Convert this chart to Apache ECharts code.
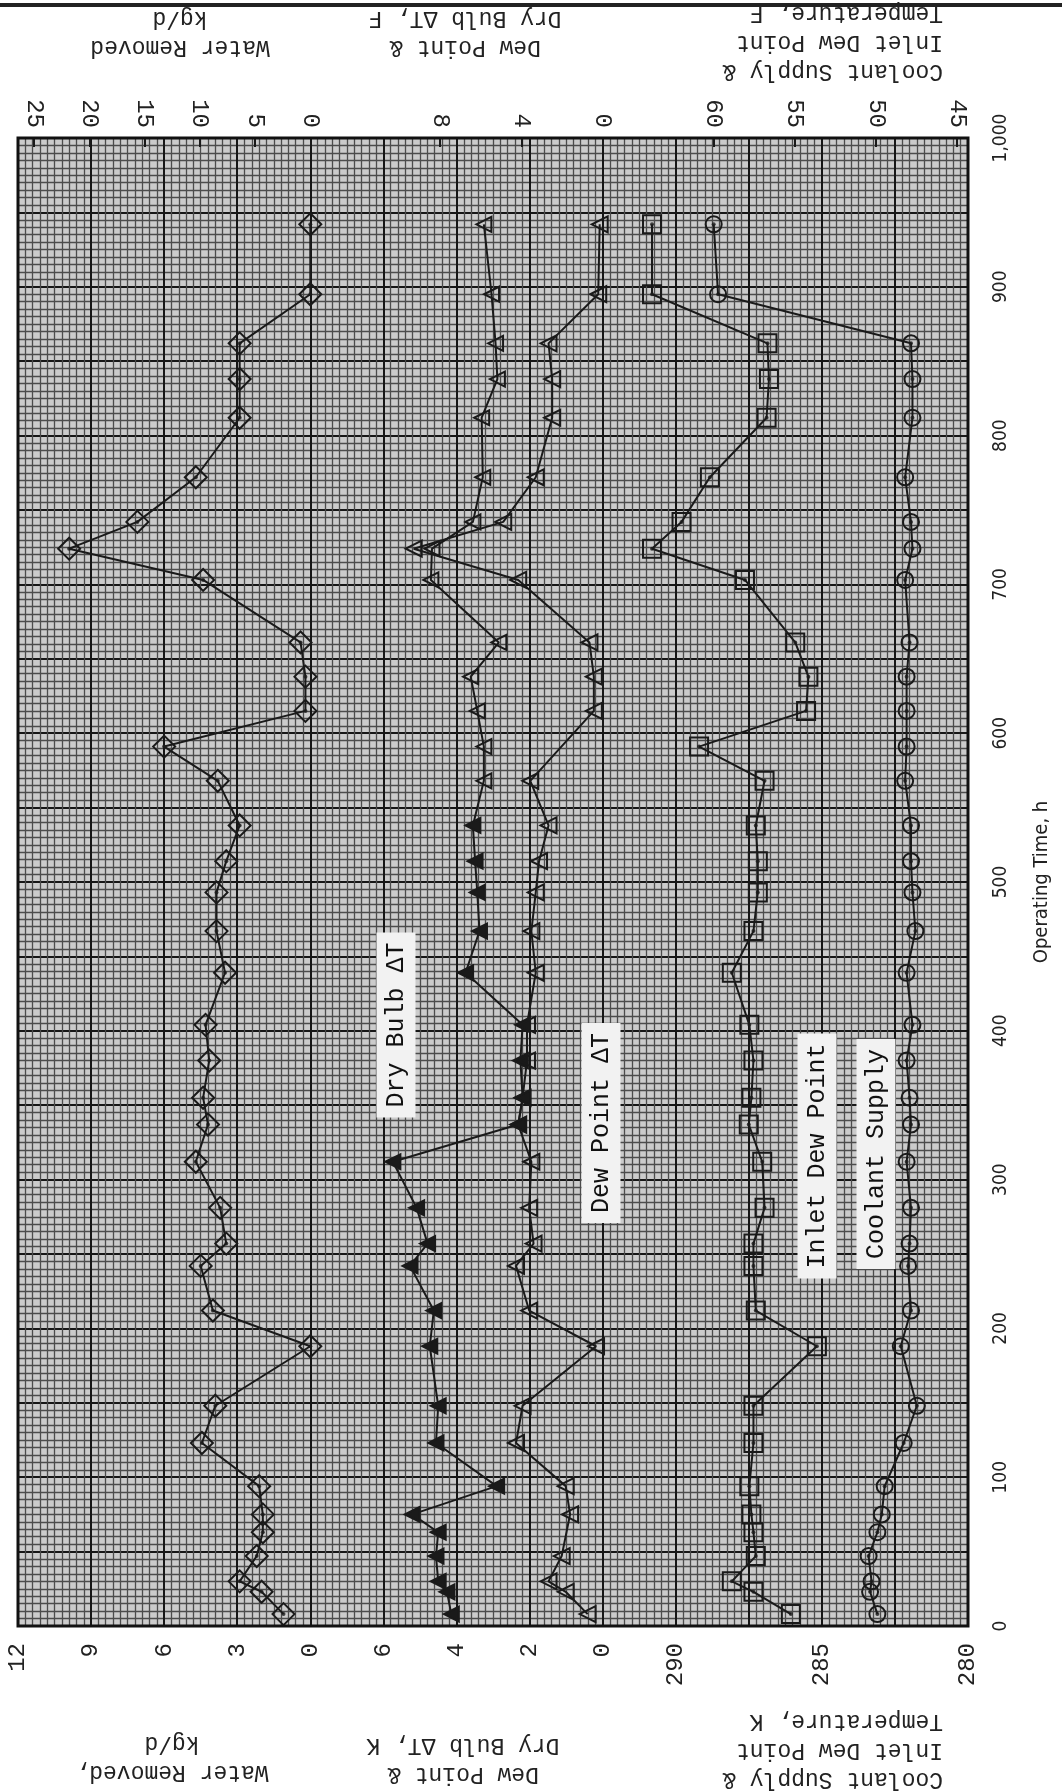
<!DOCTYPE html>
<html><head><meta charset="utf-8">
<script src="https://cdn.jsdelivr.net/npm/echarts@6/dist/echarts.min.js"></script>
<style>html,body{margin:0;padding:0;background:#fff}#c{width:1062px;height:1792px}</style>
</head><body><div id="c"></div>
<script>
// ---- data ----
const hours = [8,23,30,47,63,75,94,123,148,188,212,242,257,281,312,337,355,380,404,439,467,493,514,538,568,591,615,638,661,703,724,742,772,812,838,862,895,942];
const waterRemoved = [1.1,2.0,2.9,2.2,1.95,1.95,2.1,4.45,3.9,0,4.0,4.5,3.45,3.7,4.7,4.2,4.4,4.15,4.3,3.5,3.85,3.85,3.45,2.9,3.8,6.0,0.2,0.2,0.4,4.4,9.9,7.1,4.7,2.9,2.9,2.9,0,0];
const dryBulbDT = [4.14,4.26,4.5,4.56,4.5,5.21,2.9,4.56,4.5,4.73,4.62,5.27,4.79,5.09,5.74,2.31,2.19,2.25,2.19,3.75,3.37,3.43,3.49,3.55,3.25,3.25,3.43,3.61,2.84,4.7,4.67,3.55,3.28,3.31,2.88,2.93,3.04,3.25];
const dewPointDT = [0.41,1.01,1.48,1.12,null,0.89,1.01,2.37,2.19,0.18,2.01,2.37,1.89,2.01,1.95,2.31,2.19,2.07,2.07,1.83,1.95,1.83,1.74,1.48,1.98,null,0.24,0.24,0.36,2.31,5.17,2.72,1.83,1.38,1.38,1.48,0.12,0.08];
const inletDewPoint = [286.06,287.34,288.08,287.26,287.34,287.41,287.48,287.34,287.34,285.17,287.26,287.34,287.34,286.96,287.04,287.5,287.41,287.34,287.48,288.08,287.34,287.19,287.19,287.26,286.96,289.2,285.54,285.46,285.91,287.63,290.81,289.8,288.83,286.89,286.81,286.86,290.81,290.81];
const coolantSupply = [283.1,283.35,283.3,283.4,283.1,282.95,282.85,282.2,281.75,282.3,281.95,282.05,282.0,281.95,282.1,281.95,282.0,282.1,281.9,282.1,281.8,281.9,281.95,281.95,282.15,282.1,282.1,282.1,282.0,282.15,281.9,281.95,282.15,281.9,281.9,281.95,288.55,288.7];

const timeTicks = [0,100,200,300,400,500,600,700,800,900,1000];
const waterKgTicks = [0,3,6,9,12];
const waterTopTicks = [0,5,10,15,20,25];
const deltaKTicks = [0,2,4,6];
const deltaFTicks = [0,4,8];
const tempKTicks = [280,285,290];
const tempFTicks = [45,50,55,60];

// ---- layout ----
const L = 18, R = 968, T = 138, B = 1626;
const MAJ = (R - L) / 13;
const H = B - T;
const mono = '"Liberation Mono","DejaVu Sans Mono",monospace';
const cond = '"DejaVu Sans Condensed","Liberation Sans Narrow","DejaVu Sans",sans-serif';
const ink = '#1a1a1a';
const clear = 'rgba(0,0,0,0)';

function pairs(vals){ return hours.map((h,i)=> vals[i]==null ? null : [vals[i], h]).filter(p=>p); }

const grids = [
  {left:L, top:T, width:R-L, height:H, show:true, backgroundColor:'#cbcbcb', borderWidth:0},
  {left:L, top:T, width:4*MAJ, height:H},
  {left:L+4*MAJ, top:T, width:4*MAJ, height:H},
  {left:L+8*MAJ, top:T, width:5*MAJ, height:H}
];

function bottomAxis(g, min, max, ticks){
  return {type:'value', gridIndex:g, position:'bottom', min, max, inverse:true,
    axisLine:{show:false}, splitLine:{show:false}, axisTick:{show:false},
    axisLabel:{customValues:ticks, rotate:90, margin:17, fontFamily:mono, fontSize:24, color:'#222'}};
}
function topAxis(g, min, max, ticks){
  return {type:'value', gridIndex:g, position:'top', min, max, inverse:true,
    axisLine:{show:false}, splitLine:{show:false},
    axisTick:{show:true, inside:true, length:9, customValues:ticks, lineStyle:{color:ink, width:2}},
    axisLabel:{customValues:ticks, rotate:90, margin:10, fontFamily:mono, fontSize:24, color:'#222'}};
}
const kToF = k => k*1.8 - 459.67;

const paperX = {type:'value', gridIndex:0, min:0, max:13, interval:1, axisLine:{show:false}, axisTick:{show:false}, axisLabel:{show:false},
   splitLine:{show:true, lineStyle:{color:'#161616', width:2}},
   minorTick:{show:false, splitNumber:10}, minorSplitLine:{show:true, lineStyle:{color:'#4c4c4c', width:1.3}}};
const paperY = {type:'value', gridIndex:0, min:0, max:1000, interval:50, axisLine:{show:false}, axisTick:{show:false}, axisLabel:{show:false},
   splitLine:{show:true, lineStyle:{color:'#161616', width:2}},
   minorTick:{show:false, splitNumber:10}, minorSplitLine:{show:true, lineStyle:{color:'#4c4c4c', width:1.3}}};

const xAxes = [
  paperX,
  bottomAxis(1, 0, 12, waterKgTicks),
  topAxis(1, 0, 12*2.20462, waterTopTicks),
  bottomAxis(2, 0, 8, deltaKTicks),
  topAxis(2, 0, 8*1.8, deltaFTicks),
  bottomAxis(3, 280, 292.5, tempKTicks),
  topAxis(3, kToF(280), kToF(292.5), tempFTicks)
];
const yAxes = [
  paperY,
  {type:'value', gridIndex:1, min:0, max:1000, show:false},
  {type:'value', gridIndex:2, min:0, max:1000, show:false},
  {type:'value', gridIndex:3, min:0, max:1000, position:'right',
   axisLine:{show:false}, splitLine:{show:false},
   axisTick:{show:true, inside:true, length:9, customValues:timeTicks, lineStyle:{color:ink, width:2}},
   axisLabel:{customValues:timeTicks, rotate:90, margin:24, fontFamily:cond, fontSize:19, color:'#222',
     formatter: v => v === 1000 ? '1,000' : String(v)},
   name:'Operating Time, h', nameLocation:'middle', nameGap:64, nameRotate:90,
   nameTextStyle:{fontFamily:cond, fontSize:20, color:'#222'}}
];

function lineSeries(name, xi, yi, vals, symbol, size, filled, rot){
  return {name, type:'line', xAxisIndex:xi, yAxisIndex:yi, data:pairs(vals), symbol, symbolSize:size,
    symbolRotate: rot || 0, showAllSymbol:true, z:3,
    lineStyle:{color:ink, width:2}, itemStyle:{color: filled ? ink : clear, borderColor:ink, borderWidth:2}};
}
function dotSeries(xi, yi, vals){
  return {type:'scatter', xAxisIndex:xi, yAxisIndex:yi, data:pairs(vals), symbol:'circle', symbolSize:4, silent:true, z:4,
    itemStyle:{color:ink}};
}
// dry bulb: filled triangles early in the run, open ones later
const dryBulbSeries = lineSeries('Dry Bulb ΔT', 3, 2, dryBulbDT, 'triangle', 15, true, 90);
dryBulbSeries.data = pairs(dryBulbDT).map(p => p[1] < 560 ? p : {value:p, itemStyle:{color:clear}});

const series = [
  lineSeries('Water Removed', 1, 1, waterRemoved, 'diamond', 22, false),
  dotSeries(1, 1, waterRemoved),
  dryBulbSeries,
  lineSeries('Dew Point ΔT', 3, 2, dewPointDT, 'triangle', 16, false, 90),
  lineSeries('Inlet Dew Point', 5, 3, inletDewPoint, 'rect', 18, false),
  dotSeries(5, 3, inletDewPoint),
  lineSeries('Coolant Supply', 5, 3, coolantSupply, 'circle', 16, false),
  dotSeries(5, 3, coolantSupply)
];

function flipped(text, x, y, align){
  return {type:'text', x, y, rotation:Math.PI, z:10,
    style:{text, font:'23px ' + mono, fill:'#222', align:align||'center', verticalAlign:'middle', lineHeight:29}};
}
function boxLabel(text, x, y){
  return {type:'text', x, y, rotation:Math.PI/2, z:10,
    style:{text, font:'25px ' + mono, fill:'#111', align:'center', verticalAlign:'middle',
      backgroundColor:'#f2f2f2', padding:[8,10,6,10]}};
}

const graphic = [
  {type:'rect', shape:{x:L, y:T, width:R-L, height:H}, z:5, silent:true, style:{fill:'none', stroke:'#111', lineWidth:3}},
  {type:'line', shape:{x1:0, y1:5, x2:1062, y2:5}, z:5, style:{stroke:'#222', lineWidth:4}},
  flipped('Water Removed,\nkg/d', 172, 1758),
  flipped('Dew Point &\nDry Bulb ΔT, K', 463, 1760),
  flipped('Coolant Supply &\nInlet Dew Point\nTemperature, K', 943, 1750, 'left'),
  flipped('Water Removed\nkg/d', 180, 33),
  flipped('Dew Point &\nDry Bulb ΔT, F', 465, 33),
  flipped('Coolant Supply &\nInlet Dew Point\nTemperature, F', 943, 42, 'left'),
  boxLabel('Dry Bulb ΔT', 396, 1025),
  boxLabel('Dew Point ΔT', 601, 1123),
  boxLabel('Inlet Dew Point', 817, 1156),
  boxLabel('Coolant Supply', 876, 1154)
];

const chart = echarts.init(document.getElementById('c'), null, {renderer:'canvas'});
chart.setOption({backgroundColor:'#ffffff', animation:false, grid:grids, xAxis:xAxes, yAxis:yAxes, series, graphic});
</script></body></html>
